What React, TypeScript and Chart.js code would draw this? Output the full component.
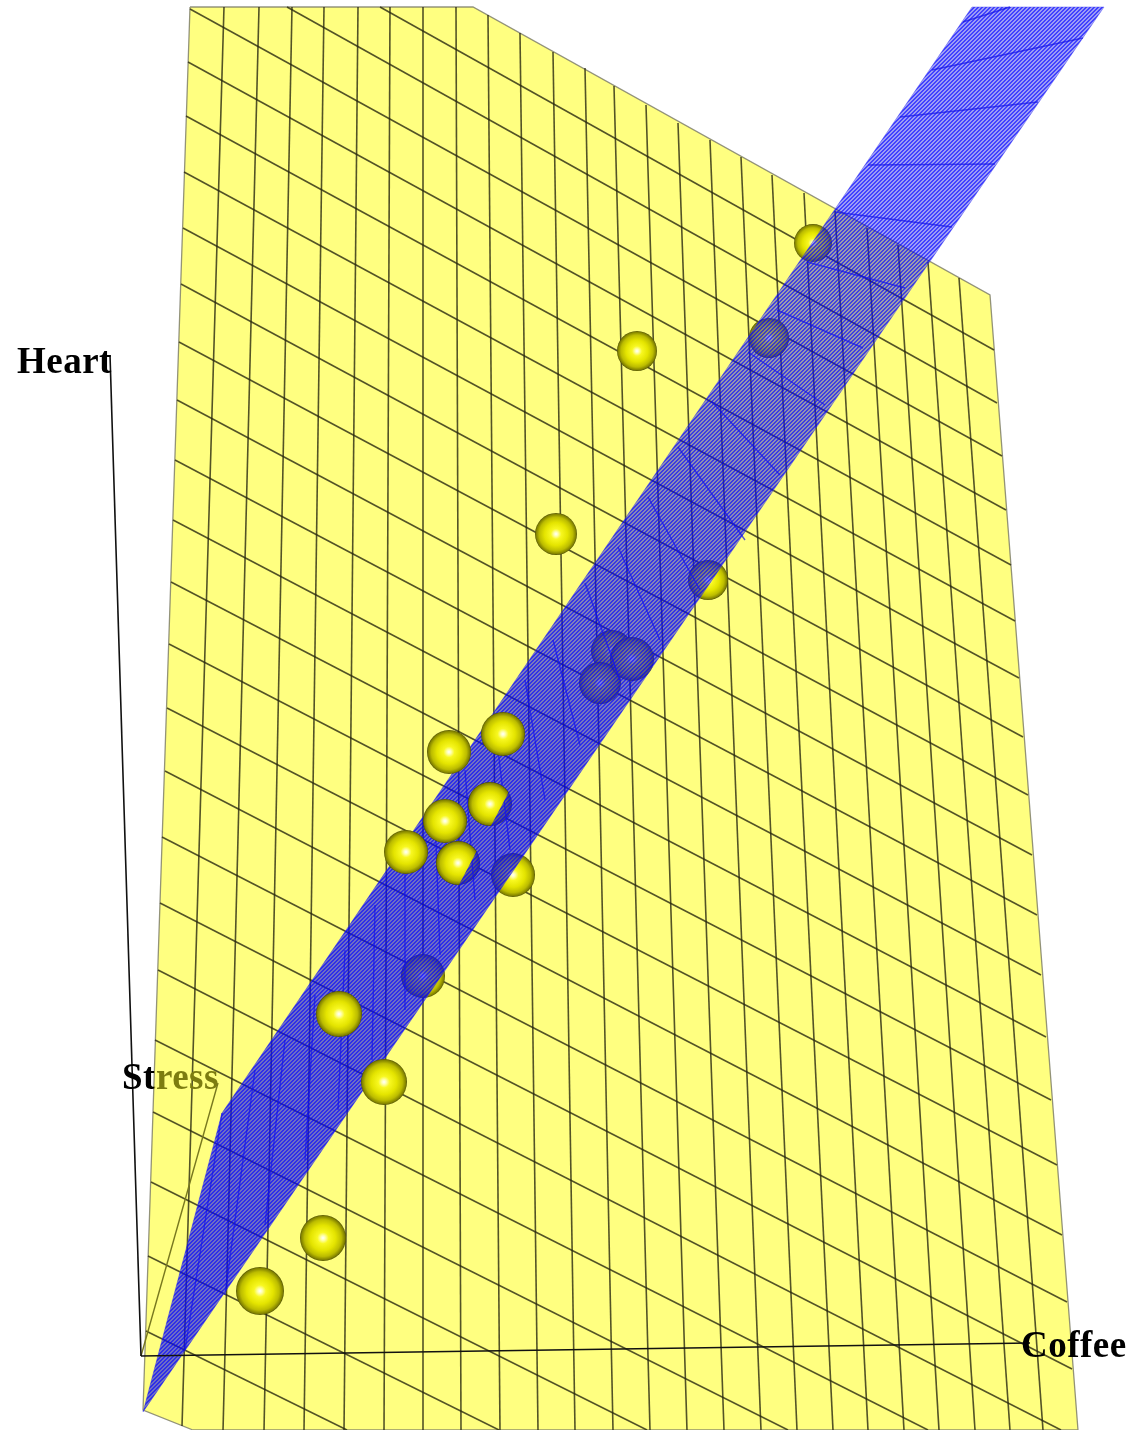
import React, { useEffect, useRef } from "react";
import { Chart, registerables } from "chart.js";

Chart.register(...registerables);

// Yellow response surface: outline
const yellowX = [190, 473, 990, 1078, 193, 143, 190];
const yellowY = [7, 7, 295, 1430, 1430, 1410, 7];

// Yellow surface: lines running top to bottom
const ridgeTopX = [224, 259, 292, 324, 358, 390, 423, 456, 488, 520, 553, 585, 614, 646, 678, 710, 741, 772, 804, 835, 867, 898, 928, 959];
const ridgeTopY = [7, 7, 7, 7, 7, 7, 7, 7, 15, 33, 52, 68, 86, 105, 123, 140, 157, 175, 193, 211, 228, 245, 262, 278];
const ridgeEndX = [182, 223, 264, 304, 344, 384, 423, 461, 500, 538, 575, 613, 650, 687, 724, 761, 797, 833, 868, 904, 939, 975, 1010, 1043];
const ridgeEndY = [1426, 1430, 1430, 1430, 1430, 1430, 1430, 1430, 1430, 1430, 1430, 1430, 1430, 1430, 1430, 1430, 1430, 1430, 1430, 1430, 1430, 1430, 1430, 1430];

// Yellow surface: lines running left to right
const sweepStartX = [380, 287, 190, 188, 186, 184, 183, 181, 179, 177, 175, 173, 171, 169, 167, 165, 162, 160, 158, 155, 153, 151, 148, 146];
const sweepStartY = [7, 7, 9, 62, 116, 172, 228, 284, 342, 400, 460, 520, 582, 644, 708, 771, 837, 903, 970, 1040, 1112, 1182, 1256, 1331];
const sweepEndX = [994, 997, 1002, 1006, 1011, 1015, 1019, 1023, 1028, 1032, 1037, 1041, 1046, 1051, 1057, 1062, 1067, 1072, 1061, 928, 788, 647, 499, 347];
const sweepEndY = [350, 403, 456, 510, 565, 621, 678, 737, 795, 855, 915, 975, 1037, 1100, 1165, 1235, 1302, 1369, 1430, 1430, 1430, 1430, 1430, 1430];

// Blue regression plane
const planeX = [143, 222, 972, 1104, 143];
const planeY = [1412, 1113, 7, 7, 1412];
const bandStartX = [1010, 932, 900, 868, 835, 807, 777, 748, 712, 678, 648, 618, 585, 553, 525, 495, 465, 435, 405, 375, 345, 315, 285, 255, 222];
const bandStartY = [7, 70, 117, 165, 212, 262, 310, 352, 402, 447, 497, 547, 583, 640, 680, 725, 770, 815, 860, 905, 950, 995, 1040, 1070, 1113];
const bandEndX = [963, 1083, 1038, 995, 952, 905, 863, 825, 780, 745, 700, 660, 620, 580, 545, 510, 475, 440, 405, 372, 338, 305, 265, 225, 185];
const bandEndY = [22, 38, 102, 164, 227, 288, 348, 405, 475, 540, 590, 640, 680, 745, 800, 850, 900, 955, 1010, 1060, 1110, 1160, 1225, 1295, 1350];

// Observations behind the plane
const behindX = [813, 769, 637, 556, 708, 612, 600, 632, 490, 458, 513, 423];
const behindY = [243, 338, 351, 534, 580, 651, 683, 659, 804, 863, 875, 976];
const behindSize = [19, 20, 20, 21, 20, 21, 21, 22, 22, 22, 22, 22];
// Observations cut by the plane
const cutX = [490, 458];
const cutY = [804, 863];
const cutSize = [22, 22];
// Observations in front of the plane
const frontX = [503, 449, 445, 406, 339, 384, 323, 260];
const frontY = [734, 752, 821, 852, 1014, 1082, 1238, 1291];
const frontSize = [22, 22, 22, 22, 23, 23, 23, 24];

// Axes
const heartAxisX = [141, 110];
const heartAxisY = [1356, 355];
const coffeeAxisX = [141, 1030];
const coffeeAxisY = [1356, 1343];
const stressAxisX = [141, 218];
const stressAxisY = [1356, 1083];

const axisTitles = ["Heart", "Stress", "Coffee"];

const zip = (xs: number[], ys: number[]) => xs.map((x, i) => ({ x, y: ys[i] }));

function sphere(r: number, cut: boolean) {
  const c = document.createElement("canvas");
  c.width = c.height = 2 * r + 2;
  const g = c.getContext("2d")!;
  const m = r + 1;
  if (cut) {
    const nx = 0.886, ny = 0.466, d = 0.5 * r, far = 3 * r;
    const px = m + nx * d, py = m + ny * d;
    g.beginPath();
    g.moveTo(px - ny * far, py + nx * far);
    g.lineTo(px + ny * far, py - nx * far);
    g.lineTo(px + ny * far - nx * far, py - nx * far - ny * far);
    g.lineTo(px - ny * far - nx * far, py + nx * far - ny * far);
    g.closePath();
    g.clip();
  }
  const grad = g.createRadialGradient(m, m, 0, m, m, r);
  grad.addColorStop(0, "#ffffff");
  grad.addColorStop(0.1, "#ffffb0");
  grad.addColorStop(0.25, "#f8f820");
  grad.addColorStop(0.55, "#e4e400");
  grad.addColorStop(0.8, "#bcbc00");
  grad.addColorStop(0.95, "#808000");
  grad.addColorStop(1, "#505000");
  g.fillStyle = grad;
  g.beginPath();
  g.arc(m, m, r, 0, Math.PI * 2);
  g.fill();
  return c;
}

function stipple(ctx: CanvasRenderingContext2D) {
  const t = document.createElement("canvas");
  t.width = t.height = 4;
  const g = t.getContext("2d")!;
  for (let y = 0; y < 4; y++) {
    for (let x = 0; x < 4; x++) {
      const strong = (x + y) % 4 < 2;
      g.fillStyle = strong ? "rgba(0,0,255,0.74)" : "rgba(20,20,230,0.42)";
      g.fillRect(x, y, 1, 1);
    }
  }
  return ctx.createPattern(t, "repeat")!;
}

export default function App() {
  const ref = useRef<HTMLCanvasElement | null>(null);
  useEffect(() => {
    const canvas = ref.current!;
    const ctx = canvas.getContext("2d")!;
    const sets: any[] = [];
    const line = (xs: number[], ys: number[], color: string, width: number) =>
      sets.push({ data: zip(xs, ys), showLine: true, borderColor: color, borderWidth: width, pointRadius: 0, fill: false });
    const area = (xs: number[], ys: number[], fillStyle: any, color: string, width: number) =>
      sets.push({ data: zip(xs, ys), showLine: true, fill: "shape", backgroundColor: fillStyle, borderColor: color, borderWidth: width, pointRadius: 0 });
    const balls = (xs: number[], ys: number[], size: number[], cut: boolean) =>
      sets.push({ data: zip(xs, ys), showLine: false, pointRadius: 5, pointStyle: size.map((r) => sphere(r, cut)) });

    const tint = ctx.createLinearGradient(0, 300, 0, 800);
    tint.addColorStop(0, "rgba(0,0,255,0)");
    tint.addColorStop(1, "rgba(0,0,255,0.3)");

    area(yellowX, yellowY, "#ffff80", "rgba(120,120,100,0.8)", 1.3);
    ridgeTopX.forEach((x, i) => line([x, ridgeEndX[i]], [ridgeTopY[i], ridgeEndY[i]], "rgba(40,40,15,0.8)", 1.6));
    sweepStartX.forEach((x, i) => line([x, sweepEndX[i]], [sweepStartY[i], sweepEndY[i]], "rgba(40,40,15,0.8)", 1.6));
    line(stressAxisX, stressAxisY, "rgb(120,120,30)", 1.4);
    balls(behindX, behindY, behindSize, false);
    area(planeX, planeY, stipple(ctx), "rgba(60,60,240,0.4)", 1);
    area(planeX, planeY, tint, "rgba(0,0,0,0)", 0);
    bandStartX.forEach((x, i) => line([x, bandEndX[i]], [bandStartY[i], bandEndY[i]], "rgba(20,20,230,0.7)", 1.4));
    balls(cutX, cutY, cutSize, true);
    balls(frontX, frontY, frontSize, false);
    line(heartAxisX, heartAxisY, "#111111", 1.6);
    line(coffeeAxisX, coffeeAxisY, "#111111", 1.6);
    sets.forEach((s, i) => (s.order = 1000 - i));

    const titles = {
      id: "axisTitles",
      afterDatasetsDraw(chart: any) {
        const c = chart.ctx as CanvasRenderingContext2D;
        const x = chart.scales.x;
        const y = chart.scales.y;
        c.save();
        c.font = 'bold 37px "Liberation Serif"';
        (c as any).letterSpacing = "0.5px";
        c.textBaseline = "alphabetic";
        c.textAlign = "left";
        c.fillStyle = "#000000";
        c.fillText(axisTitles[0], x.getPixelForValue(17), y.getPixelForValue(373));
        const tone = c.createLinearGradient(x.getPixelForValue(122), 0, x.getPixelForValue(222), 0);
        tone.addColorStop(0, "#000000");
        tone.addColorStop(0.32, "#000000");
        tone.addColorStop(0.32, "#7c7c10");
        tone.addColorStop(1, "#7c7c10");
        c.fillStyle = tone;
        c.fillText(axisTitles[1], x.getPixelForValue(122), y.getPixelForValue(1089));
        c.fillStyle = "#000000";
        c.fillText(axisTitles[2], x.getPixelForValue(1021), y.getPixelForValue(1357));
        c.restore();
      },
    };

    const chart = new Chart(canvas, {
      type: "scatter",
      data: { datasets: sets },
      options: {
        animation: false,
        responsive: false,
        events: [],
        layout: { padding: 0, autoPadding: false },
        scales: {
          x: { type: "linear", min: 0, max: 1141, display: false },
          y: { type: "linear", min: 0, max: 1430, reverse: true, display: false },
        },
        plugins: { legend: { display: false }, tooltip: { enabled: false }, title: { display: false } },
      },
      plugins: [titles],
    } as any);
    return () => chart.destroy();
  }, []);
  return (
    <canvas
      ref={ref}
      width={1141}
      height={1430}
      style={{ position: "fixed", left: 0, top: 0, display: "block", background: "#ffffff" }}
    />
  );
}
